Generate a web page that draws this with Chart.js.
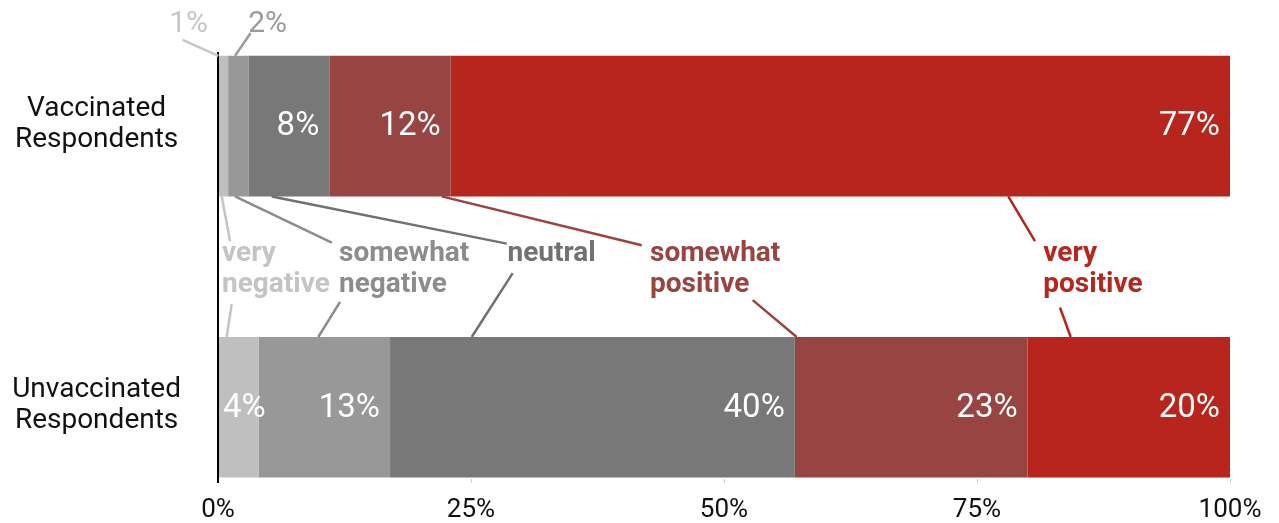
<!DOCTYPE html>
<html><head><meta charset="utf-8">
<script src="https://cdn.jsdelivr.net/npm/chart.js@4.4.1/dist/chart.umd.min.js"></script>
<style>html,body{margin:0;padding:0;background:#fff;}#wrap{width:1279px;height:523px;}</style>
</head><body><div id="wrap"><canvas id="c" width="1279" height="523"></canvas></div>
<script>
// ---- data ----
const categories = ['Vaccinated Respondents', 'Unvaccinated Respondents'];
const seriesNames = ['very negative', 'somewhat negative', 'neutral', 'somewhat positive', 'very positive'];
const veryNegative = [1, 4];
const somewhatNegative = [2, 13];
const neutral = [8, 40];
const somewhatPositive = [12, 23];
const veryPositive = [77, 20];
const xTickValues = [0, 25, 50, 75, 100];

// ---- styles ----
const seriesValues = [veryNegative, somewhatNegative, neutral, somewhatPositive, veryPositive];
const barColors = ['#bfbfbf', '#989898', '#787878', '#974442', '#b8251c'];
const noteColors = ['#c4c4c4', '#8c8c8c', '#717171', '#9a4341', '#b7251d'];
const FONT = 'Roboto';

// annotation layout (x in percent units, y in category units)
const noteLayout = [
  { fromX: 0.37, topEnd: [1.19, 0.409], text: [0.4, 0.481], bottomStart: [1.35, 0.633], toX: 0.86 },
  { fromX: 1.68, topEnd: [11.24, 0.414], text: [11.96, 0.481], bottomStart: [12.06, 0.625], toX: 9.91 },
  { fromX: 5.31, topEnd: [28.53, 0.418], text: [28.6, 0.481], bottomStart: [29.12, 0.523], toX: 25.07 },
  { fromX: 22.1, topEnd: [41.87, 0.424], text: [42.69, 0.481], bottomStart: [52.84, 0.619], toX: 57.18 },
  { fromX: 78.09, topEnd: [80.73, 0.409], text: [81.55, 0.481], bottomStart: [83.2, 0.645], toX: 84.26 }
];
const outsideLabels = [
  { series: 0, category: 0, text: [-0.99, -0.335], align: 'right', lineFrom: [-3.49, -0.307], lineToX: 0.03, color: '#c6c6c6' },
  { series: 1, category: 0, text: [2.99, -0.335], align: 'left', lineFrom: [3.23, -0.331], lineToX: 1.68, color: '#9a9a9a' }
];

const labelPlugin = {
  id: 'labels',
  afterDatasetsDraw(chart) {
    const ctx = chart.ctx;
    const X = v => chart.scales.x.getPixelForValue(v);
    const Y = v => chart.scales.y.getPixelForValue(v);
    const barOf = (s, c) => chart.getDatasetMeta(s).data[c].getProps(['x', 'y', 'base', 'height'], true);
    ctx.save();
    ctx.font = '33px ' + FONT;
    ctx.fillStyle = '#ffffff';
    ctx.textBaseline = 'middle';
    chart.data.datasets.forEach((ds, s) => {
      ds.data.forEach((d, c) => {
        if (outsideLabels.some(o => o.series === s && o.category === c)) return;
        const b = barOf(s, c);
        const left = Math.min(b.x, b.base), right = Math.max(b.x, b.base);
        const txt = d.x + '%';
        const tw = ctx.measureText(txt).width;
        if (tw + 20 > right - left) { ctx.textAlign = 'left'; ctx.fillText(txt, left + 4, b.y + 1); }
        else { ctx.textAlign = 'right'; ctx.fillText(txt, right - 10, b.y + 1); }
      });
    });
    ctx.font = '30px ' + FONT;
    ctx.lineWidth = 2.5;
    outsideLabels.forEach(o => {
      const b = barOf(o.series, o.category);
      const val = chart.data.datasets[o.series].data[o.category].x;
      ctx.fillStyle = o.color; ctx.strokeStyle = o.color;
      ctx.textAlign = o.align; ctx.textBaseline = 'alphabetic';
      ctx.fillText(val + '%', X(o.text[0]), Y(o.text[1]));
      ctx.beginPath();
      ctx.moveTo(X(o.lineFrom[0]), Y(o.lineFrom[1]));
      ctx.lineTo(X(o.lineToX), b.y - b.height / 2);
      ctx.stroke();
    });
    ctx.font = 'bold 28px ' + FONT;
    ctx.textAlign = 'left'; ctx.textBaseline = 'alphabetic';
    noteLayout.forEach((n, s) => {
      const b0 = barOf(s, 0), b1 = barOf(s, 1);
      ctx.strokeStyle = noteColors[s]; ctx.fillStyle = noteColors[s];
      ctx.beginPath();
      ctx.moveTo(X(n.fromX), b0.y + b0.height / 2);
      ctx.lineTo(X(n.topEnd[0]), Y(n.topEnd[1]));
      ctx.moveTo(X(n.bottomStart[0]), Y(n.bottomStart[1]));
      ctx.lineTo(X(n.toX), b1.y - b1.height / 2);
      ctx.stroke();
      const lines = seriesNames[s].split(' ');
      lines.forEach((ln, k) => ctx.fillText(ln, X(n.text[0]), Y(n.text[1]) + k * 31));
    });
    ctx.restore();
  }
};

new Chart(document.getElementById('c'), {
  type: 'bar',
  data: {
    datasets: seriesNames.map((name, s) => ({
      label: name,
      data: seriesValues[s].map((v, i) => ({ x: v, y: i })),
      backgroundColor: barColors[s],
      borderWidth: 0,
      barPercentage: 0.5,
      categoryPercentage: 1
    }))
  },
  options: {
    indexAxis: 'y',
    responsive: false,
    animation: false,
    devicePixelRatio: 1,
    layout: { padding: { top: 53, right: 49, bottom: 0, left: 0 } },
    plugins: { legend: { display: false }, tooltip: { enabled: false } },
    scales: {
      x: {
        type: 'linear', stacked: true, min: 0, max: 100,
        afterBuildTicks: sc => { sc.ticks = xTickValues.map(v => ({ value: v })); },
        afterFit: sc => { sc.height = 44; },
        ticks: { callback: v => v + '%', font: { family: FONT, size: 26, lineHeight: 1.0 }, color: '#111', padding: 14, maxRotation: 0, autoSkip: false },
        grid: { display: true, drawOnChartArea: false, drawTicks: true, tickLength: 4,
          color: c => (c.tick && c.tick.value === 0) ? '#000' : '#d0d0d0',
          lineWidth: c => (c.tick && c.tick.value === 0) ? 2 : 1 },
        border: { display: false }
      },
      y: {
        type: 'linear', reverse: true, stacked: true, offset: false, min: -0.26, max: 1.255,
        afterBuildTicks: sc => { sc.ticks = categories.map((c, i) => ({ value: i })); },
        afterFit: sc => { sc.width = 218; sc.paddingTop = 0; sc.paddingBottom = 0; },
        ticks: { callback: v => categories[v] ? categories[v].split(' ') : '', font: { family: FONT, size: 28, lineHeight: 1.1 }, color: '#111', crossAlign: 'center', padding: 37, labelOffset: -2, autoSkip: false },
        grid: { display: false, drawTicks: false },
        border: { display: true, color: '#000', width: 2 }
      }
    }
  },
  plugins: [labelPlugin]
});
</script>
</body></html>
